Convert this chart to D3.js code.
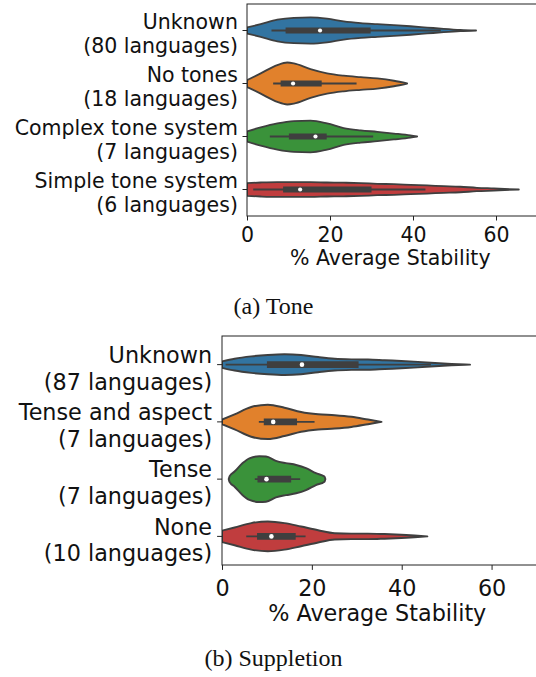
<!DOCTYPE html>
<html>
<head>
<meta charset="utf-8">
<script src="https://cdn.jsdelivr.net/npm/d3@7"></script>
<style>
  body { margin: 0; background: #fff; }
</style>
</head>
<body>
<div id="chart"></div>
<script>
// ---- data ----
var xTicks = [0, 20, 40, 60];
var palette = ["#3274a1", "#e1812c", "#3a923a", "#c03d3e"];

// (a) Tone
var toneCategories = ["Unknown", "No tones", "Complex tone system", "Simple tone system"];
var toneCounts = [80, 18, 7, 6];
// violin outlines: [stability, relative density]
var toneProfiles = [
  [[0, 0.14], [3.3, 0.30], [7.3, 0.51], [11.3, 0.60], [15.3, 0.62], [19.3, 0.56], [23.3, 0.43], [27.4, 0.35],
   [31.4, 0.30], [35.4, 0.25], [39.4, 0.20], [43.4, 0.14], [47.4, 0.08], [51.4, 0.03], [55.2, 0]],
  [[0, 0.16], [3.3, 0.48], [7.3, 0.87], [9.7, 0.99], [11.3, 0.95], [15.3, 0.68], [19.3, 0.48], [23.3, 0.37],
   [27.4, 0.30], [31.4, 0.24], [35.4, 0.13], [38.6, 0]],
  [[0, 0.24], [3.3, 0.43], [7.3, 0.62], [11.3, 0.73], [15.3, 0.75], [19.3, 0.62], [23.3, 0.40], [27.4, 0.29],
   [31.4, 0.22], [35.4, 0.14], [39.4, 0.05], [41, 0]],
  [[0, 0.30], [3.3, 0.33], [7.3, 0.35], [11.3, 0.35], [15.3, 0.35], [19.3, 0.33], [23.3, 0.32], [27.4, 0.30],
   [31.4, 0.27], [35.4, 0.25], [39.4, 0.22], [43.4, 0.19], [47.4, 0.16], [51.4, 0.13], [55.4, 0.08],
   [59.5, 0.05], [65.5, 0]]
];
// inner box: [whisker low, q1, median, q3, whisker high]
var toneBoxes = [
  [5.9, 9.3, 17.6, 29.8, 46.7],
  [6.3, 8.1, 11.1, 18.0, 26.4],
  [5.5, 10.1, 16.5, 19.2, 30.4],
  [1.5, 8.7, 12.8, 30.0, 43.0]
];

// (b) Suppletion
var suppCategories = ["Unknown", "Tense and aspect", "Tense", "None"];
var suppCounts = [87, 7, 7, 10];
var suppProfiles = [
  [[0, 0.14], [2.8, 0.26], [6.5, 0.36], [10.2, 0.42], [13.9, 0.45], [17.6, 0.42], [21.4, 0.33], [25.1, 0.26],
   [28.8, 0.23], [32.5, 0.22], [36.2, 0.19], [39.9, 0.16], [43.6, 0.12], [47.4, 0.07], [51.1, 0.03], [55.2, 0]],
  [[0, 0.10], [2.8, 0.33], [6.5, 0.65], [10.2, 0.75], [13.9, 0.62], [17.6, 0.43], [21.4, 0.33], [25.1, 0.29],
   [28.8, 0.22], [32.5, 0.10], [35.5, 0]],
  [[1.5, 0], [1.7, 0.13], [2.8, 0.33], [4.6, 0.70], [6.1, 0.91], [8.3, 1.0], [9.8, 0.99], [12.0, 0.80],
   [14.2, 0.70], [16.5, 0.62], [18.7, 0.48], [20.9, 0.26], [22.8, 0.11], [23.0, 0]],
  [[0, 0.25], [2.8, 0.39], [6.5, 0.58], [10.2, 0.65], [13.9, 0.58], [17.6, 0.43], [21.4, 0.27], [25.1, 0.14],
   [28.8, 0.12], [32.5, 0.12], [36.2, 0.10], [39.9, 0.07], [43.6, 0.03], [45.7, 0]]
];
var suppBoxes = [
  [0.8, 10.0, 17.8, 30.4, 46.5],
  [8.2, 9.3, 11.4, 16.7, 20.6],
  [7.3, 7.9, 9.9, 15.4, 17.4],
  [5.4, 7.8, 11.0, 16.4, 18.6]
];

var W = 536, H = 677;
var lineColor = "#3f3f3f";

var svg = d3.select("#chart").append("svg")
  .attr("width", W)
  .attr("height", H)
  .style("font-family", "'DejaVu Sans', sans-serif");

function drawPanel(cfg, id) {
  var x = d3.scaleLinear().domain([0, 70]).range([cfg.left, cfg.right]);
  var y = d3.scaleBand().domain(cfg.categories).range([cfg.top, cfg.bottom]);
  var w = d3.scaleLinear().domain([0, 1]).range([0, y.bandwidth() * 0.4]);
  var s = cfg.font / 20.5;  // everything in panel (b) is drawn a bit larger

  var g = svg.append("g");

  g.append("clipPath").attr("id", "clip" + id)
    .append("rect")
    .attr("x", cfg.left).attr("y", cfg.top)
    .attr("width", cfg.right - cfg.left).attr("height", cfg.bottom - cfg.top);

  var plot = g.append("g").attr("clip-path", "url(#clip" + id + ")");

  cfg.categories.forEach(function (c, i) {
    var cy = y(c) + y.bandwidth() / 2;
    var area = d3.area()
      .x((d) => x(d[0]))
      .y0((d) => cy - w(d[1]))
      .y1((d) => cy + w(d[1]))
      .curve(d3.curveMonotoneX);

    plot.append("path")
      .datum(cfg.profiles[i])
      .attr("d", area)
      .attr("fill", palette[i])
      .attr("stroke", lineColor)
      .attr("stroke-width", 1.8 * s)
      .attr("stroke-linejoin", "round");

    var b = cfg.boxes[i];
    // whiskers
    plot.append("line")
      .attr("x1", x(b[0])).attr("x2", x(b[4]))
      .attr("y1", cy).attr("y2", cy)
      .attr("stroke", lineColor)
      .attr("stroke-width", 1.8 * s);
    // box
    plot.append("line")
      .attr("x1", x(b[1])).attr("x2", x(b[3]))
      .attr("y1", cy).attr("y2", cy)
      .attr("stroke", lineColor)
      .attr("stroke-width", 6 * s);
    // median
    plot.append("circle")
      .attr("cx", x(b[2])).attr("cy", cy)
      .attr("r", 2.1 * s)
      .attr("fill", "white");
  });

  // x axis
  var xAxis = g.append("g")
    .attr("transform", `translate(0,${cfg.bottom})`)
    .call(d3.axisBottom(x).tickValues(xTicks).tickSize(4.5 * s).tickSizeOuter(0).tickPadding(cfg.xPad));
  xAxis.select(".domain").remove();
  xAxis.selectAll("line").attr("stroke", "#222").attr("stroke-width", 1);
  xAxis.selectAll("text")
    .attr("fill", "#111")
    .style("font-size", cfg.font + "px")
    .style("font-family", "'DejaVu Sans', sans-serif");

  // y axis: ticks only, labels drawn as two lines
  var yAxis = g.append("g")
    .attr("transform", `translate(${cfg.left},0)`)
    .call(d3.axisLeft(y).tickSize(4.5 * s).tickSizeOuter(0).tickFormat(""));
  yAxis.select(".domain").remove();
  yAxis.selectAll("line").attr("stroke", "#222").attr("stroke-width", 1);

  cfg.categories.forEach(function (c, i) {
    var cy = y(c) + y.bandwidth() / 2;
    var t = g.append("text")
      .attr("text-anchor", "end")
      .attr("fill", "#111")
      .style("font-size", cfg.font + "px");
    var tx = cfg.left - 4.5 * s - 4.6 * s;
    t.append("tspan").attr("x", tx).attr("y", cy - 0.08 * cfg.font).text(c);
    t.append("tspan").attr("x", tx).attr("y", cy + 1.12 * cfg.font).text("(" + cfg.counts[i] + " languages)");
  });

  // spines
  g.append("rect")
    .attr("x", cfg.left).attr("y", cfg.top)
    .attr("width", cfg.right - cfg.left).attr("height", cfg.bottom - cfg.top)
    .attr("fill", "none")
    .attr("stroke", "#222")
    .attr("stroke-width", 1);

  // axis label
  g.append("text")
    .attr("x", (cfg.left + cfg.right) / 2 - 2)
    .attr("y", cfg.labelY)
    .attr("text-anchor", "middle")
    .attr("fill", "#111")
    .style("font-size", cfg.font + "px")
    .text("% Average Stability");

  // caption
  g.append("text")
    .attr("x", 273.5)
    .attr("y", cfg.captionY)
    .attr("text-anchor", "middle")
    .attr("fill", "#111")
    .style("font-family", "'Liberation Serif', 'Times New Roman', serif")
    .style("font-size", "24px")
    .text(cfg.caption);
}

drawPanel({
  categories: toneCategories, counts: toneCounts, profiles: toneProfiles, boxes: toneBoxes,
  left: 247, right: 537.5, top: 4, bottom: 216, font: 20.5, xPad: 6.5,
  labelY: 265, caption: "(a) Tone", captionY: 314
}, "a");

drawPanel({
  categories: suppCategories, counts: suppCounts, profiles: suppProfiles, boxes: suppBoxes,
  left: 222, right: 536.5, top: 336, bottom: 565, font: 22.3, xPad: 10,
  labelY: 621, caption: "(b) Suppletion", captionY: 666
}, "b");
</script>
</body>
</html>
